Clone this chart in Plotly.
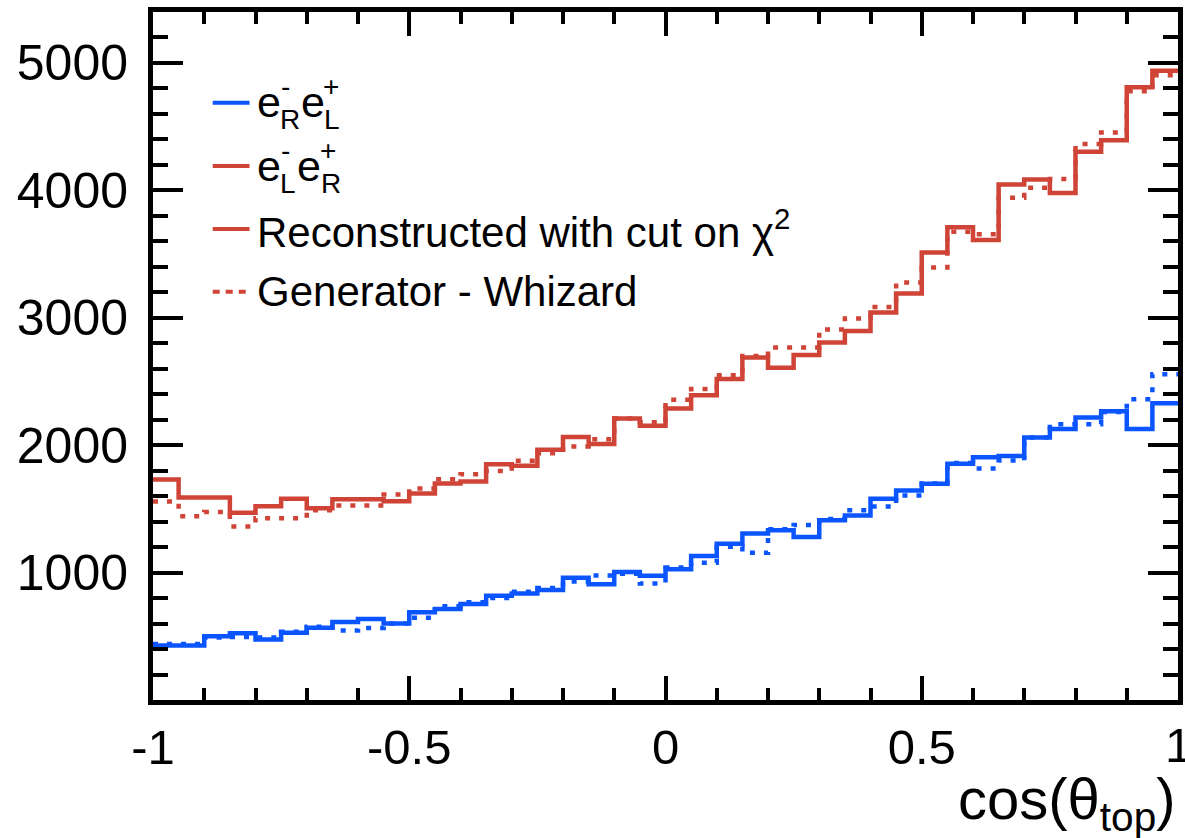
import numpy as np
import plotly.graph_objects as go

# ---------------- data (40 bins of cos(theta_top), width 0.05) ----------------
bin_edges = np.round(np.linspace(-1.0, 1.0, 41), 3)

# e-L e+R  (red) : reconstructed with chi2 cut (solid)
reco_LR = [1730, 1590, 1590, 1470, 1520, 1580, 1505, 1576, 1576, 1560,
           1620, 1700, 1715, 1851, 1838, 1965, 2065, 2010, 2209, 2153,
           2288, 2392, 2520, 2688, 2608, 2708, 2806, 2897, 3041, 3190,
           3513, 3711, 3610, 4047, 4086, 3980, 4304, 4393, 4810, 4938]
# e-L e+R  (red) : generator Whizard (dotted)
gen_LR = [1558, 1442, 1476, 1362, 1427, 1427, 1490, 1527, 1527, 1612,
          1660, 1733, 1772, 1798, 1877, 1937, 1990, 2046, 2209, 2180,
          2357, 2441, 2549, 2700, 2766, 2766, 2908, 2994, 3085, 3276,
          3394, 3675, 3655, 3943, 4021, 4090, 4363, 4455, 4777, 4903]
# e-R e+L  (blue) : reconstructed with chi2 cut (solid)
reco_RL = [428, 428, 500, 523, 474, 527, 568, 612, 636, 600,
           688, 714, 753, 818, 835, 863, 960, 908, 1005, 975,
           1026, 1131, 1227, 1306, 1332, 1280, 1410, 1449, 1580, 1645,
           1698, 1855, 1906, 1916, 2060, 2128, 2217, 2267, 2128, 2330]
# e-R e+L  (blue) : generator Whizard (dotted)
gen_RL = [440, 440, 490, 495, 490, 535, 575, 545, 565, 600,
          645, 736, 767, 800, 850, 880, 930, 978, 990, 915,
          1040, 1077, 1202, 1155, 1340, 1374, 1420, 1490, 1518, 1606,
          1700, 1860, 1817, 1880, 2060, 2165, 2165, 2260, 2361, 2557]

x_ticks = [-1, -0.5, 0, 0.5, 1]
x_tick_text = ["-1", "-0.5", "0", "0.5", "1"]
y_ticks = [1000, 2000, 3000, 4000, 5000]
y_tick_text = ["1000", "2000", "3000", "4000", "5000"]

RED = "#cf4436"
BLUE = "#0a55ff"
FONT = "Liberation Sans, Arial, Helvetica, sans-serif"

W, H = 1185, 838
L, R, T, B = 153, 2, 12, 138
PW, PH = W - L - R, H - T - B


def px(xp):
    return (xp - L) / PW


def py(yp):
    return (H - B - yp) / PH


def step(vals):
    return list(vals) + [vals[-1]]


xs = list(bin_edges)

fig = go.Figure()
for vals, col, dash in [(gen_LR, RED, "5px,9px"), (reco_LR, RED, "solid"),
                        (gen_RL, BLUE, "5px,9px"), (reco_RL, BLUE, "solid")]:
    fig.add_trace(go.Scatter(x=xs, y=step(vals), mode="lines",
                             line=dict(shape="hv", color=col, width=4.5, dash=dash),
                             showlegend=False, hoverinfo="skip"))

axis_common = dict(showline=True, linecolor="black", linewidth=5, mirror="allticks",
                   ticks="inside", tickcolor="black", tickwidth=4,
                   showgrid=False, zeroline=False)

# the last x label ("1") sits on the figure edge; it is drawn as an annotation below
shown_x_text = x_tick_text[:-1] + [""]
fig.update_xaxes(range=[-1, 1], tickvals=x_ticks, ticktext=shown_x_text, ticklen=24,
                 minor=dict(dtick=0.1, tick0=-1, ticklen=12, tickwidth=4,
                            tickcolor="black", ticks="inside", showgrid=False),
                 ticklabelstandoff=0,
                 tickfont=dict(family=FONT, size=49, color="black"), **axis_common)
fig.update_yaxes(range=[0, 5400], tickvals=y_ticks, ticktext=y_tick_text, ticklen=30,
                 minor=dict(dtick=200, tick0=0, ticklen=15, tickwidth=4,
                            tickcolor="black", ticks="inside", showgrid=False),
                 ticklabelstandoff=10,
                 tickfont=dict(family=FONT, size=50, color="black"), **axis_common)

shapes = []
annotations = []


def legend_line(y, col, dash="solid"):
    shapes.append(dict(type="line", xref="paper", yref="paper",
                       x0=px(213), x1=px(250), y0=py(y), y1=py(y),
                       line=dict(color=col, width=4, dash=dash)))


def txt(x, y, s, size, anchor="left", vanchor="middle"):
    annotations.append(dict(xref="paper", yref="paper", x=px(x), y=py(y), text=s,
                            showarrow=False, xanchor=anchor, yanchor=vanchor,
                            borderpad=0,
                            font=dict(family=FONT, size=size, color="black")))


def pair_label(y, sub1, sub2, x_e2, x_s2):
    # e^{-}_{sub1} e^{+}_{sub2} with stacked super/subscripts
    txt(256, y, "e", 43)
    txt(281, y + 1, "-", 28, vanchor="bottom")
    txt(280, y + 1, sub1, 28, vanchor="top")
    txt(x_e2, y, "e", 43)
    txt(x_s2, y + 1, "+", 28, vanchor="bottom")
    txt(x_s2 + 1, y + 1, sub2, 28, vanchor="top")


# legend row 1: e-R e+L (blue)
legend_line(102.7, BLUE)
pair_label(102, "R", "L", 301, 323)

# legend row 2: e-L e+R (red)
legend_line(166, RED)
pair_label(166, "L", "R", 297, 320)

# legend row 3
legend_line(229, RED)
txt(256, 229, "Reconstructed with cut on \u03c7<sup>2</sup>", 42)

# legend row 4
legend_line(291.7, RED, "7px,6px")
txt(256, 292, "Generator - Whizard", 42)

# last x tick label, clipped by the figure edge as in the original
annotations.append(dict(xref="paper", yref="paper", x=px(1184), y=py(745),
                        text=x_tick_text[-1], showarrow=False,
                        xanchor="center", yanchor="middle",
                        font=dict(family=FONT, size=49, color="black")))

# x axis title
annotations.append(dict(xref="paper", yref="paper", x=px(1183), y=py(803),
                        text="cos(\u03b8<sub>top</sub>)", showarrow=False,
                        xanchor="right", yanchor="middle",
                        font=dict(family=FONT, size=58, color="black")))

fig.update_layout(width=W, height=H, margin=dict(l=L, r=R, t=T, b=B, pad=0),
                  paper_bgcolor="white", plot_bgcolor="white",
                  shapes=shapes, annotations=annotations, showlegend=False)

fig.write_html("out.html")
